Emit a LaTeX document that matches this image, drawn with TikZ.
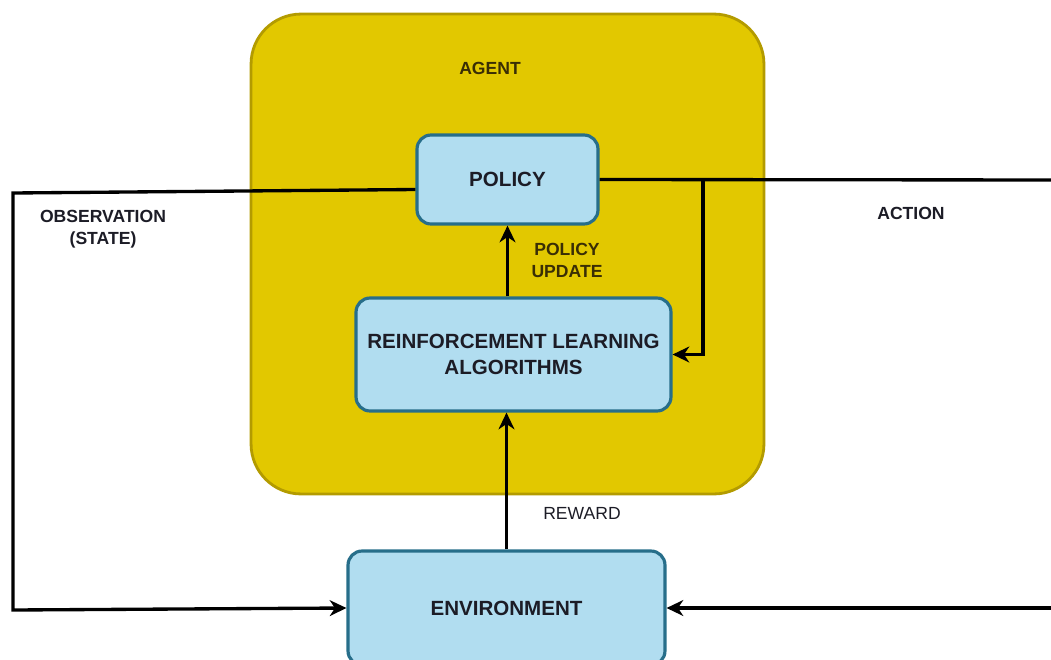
\documentclass[tikz,border=0pt]{standalone}
\usepackage{fontspec}
\setmainfont{Liberation Sans}
\usetikzlibrary{arrows.meta,calc}
\definecolor{agentfill}{HTML}{E2C800}
\definecolor{agentline}{HTML}{B39B00}
\definecolor{boxfill}{HTML}{B1DDF0}
\definecolor{boxline}{HTML}{276E8A}
\definecolor{boxtext}{HTML}{1C1C26}
\definecolor{agenttext}{HTML}{3A2E05}
\tikzset{
  agentbox/.style={draw=agentline, fill=agentfill, line width=1.6pt, rounded corners=1cm,
    minimum width=10.26cm, minimum height=9.6cm, inner sep=0pt},
  blockbox/.style={draw=boxline, fill=boxfill, line width=1.8pt, rounded corners=0.28cm,
    inner sep=0pt, align=center, font=\fontsize{11.7}{14.7}\selectfont\bfseries, text=boxtext},
  wire/.style={line width=1.9pt, black},
  arrowwire/.style={wire, -{Stealth[length=9.5pt,width=9pt,inset=3pt]}},
  lbl/.style={align=center, font=\fontsize{10}{12.5}\selectfont\bfseries, text=boxtext},
}
\begin{document}
\begin{tikzpicture}[x=0.02cm, y=-0.02cm]
  \useasboundingbox (0,0) rectangle (1051,659);
  \clip (0,0) rectangle (1051,659);

  % agent container
  \node[agentbox] (agent) at (507.5,254) {};
  \node[lbl, text=agenttext] (agentlbl) at (490,68) {AGENT};

  % blocks
  \node[blockbox, minimum width=3.62cm, minimum height=1.78cm] (policy) at (507.5,179.5) {POLICY};
  \node[blockbox, minimum width=6.3cm, minimum height=2.26cm] (rl) at (513.5,354.5)
    {REINFORCEMENT LEARNING\\ALGORITHMS};
  \node[blockbox, minimum width=6.34cm, minimum height=2.28cm] (env) at (506.5,608) {ENVIRONMENT};

  % free ends and bends
  \coordinate (obsA) at (13,193);
  \coordinate (obsB) at (13,610);
  \coordinate (actEnd) at (1060,180);
  \coordinate (actSplit) at (703,180);
  \coordinate (actDown) at (703,354.5);
  \coordinate (retStart) at (1060,608);

  % observation loop
  \draw[arrowwire] ($(policy.west)+(0,10)$) -- (obsA) -- (obsB) -- (env.west);
  % action
  \draw[wire] (policy.east) -- (actEnd);
  \draw[arrowwire] (actSplit) -- (actDown) -- (rl.east);
  \draw[arrowwire] (retStart) -- (env.east);
  % reward
  \draw[arrowwire] (env.north) -- (env.north |- rl.south);
  % policy update
  \draw[arrowwire] (policy.south |- rl.north) -- (policy.south);

  % labels
  \node[lbl] (obslbl) at (103,229) {OBSERVATION\\(STATE)};
  \node[lbl] (actlbl) at (911,213) {ACTION};
  \node[lbl, text=agenttext] (updlbl) at (567,260.5) {POLICY\\UPDATE};
  \node[lbl, font=\fontsize{10}{12.5}\selectfont] (rewlbl) at (582,513) {REWARD};
\end{tikzpicture}
\end{document}
